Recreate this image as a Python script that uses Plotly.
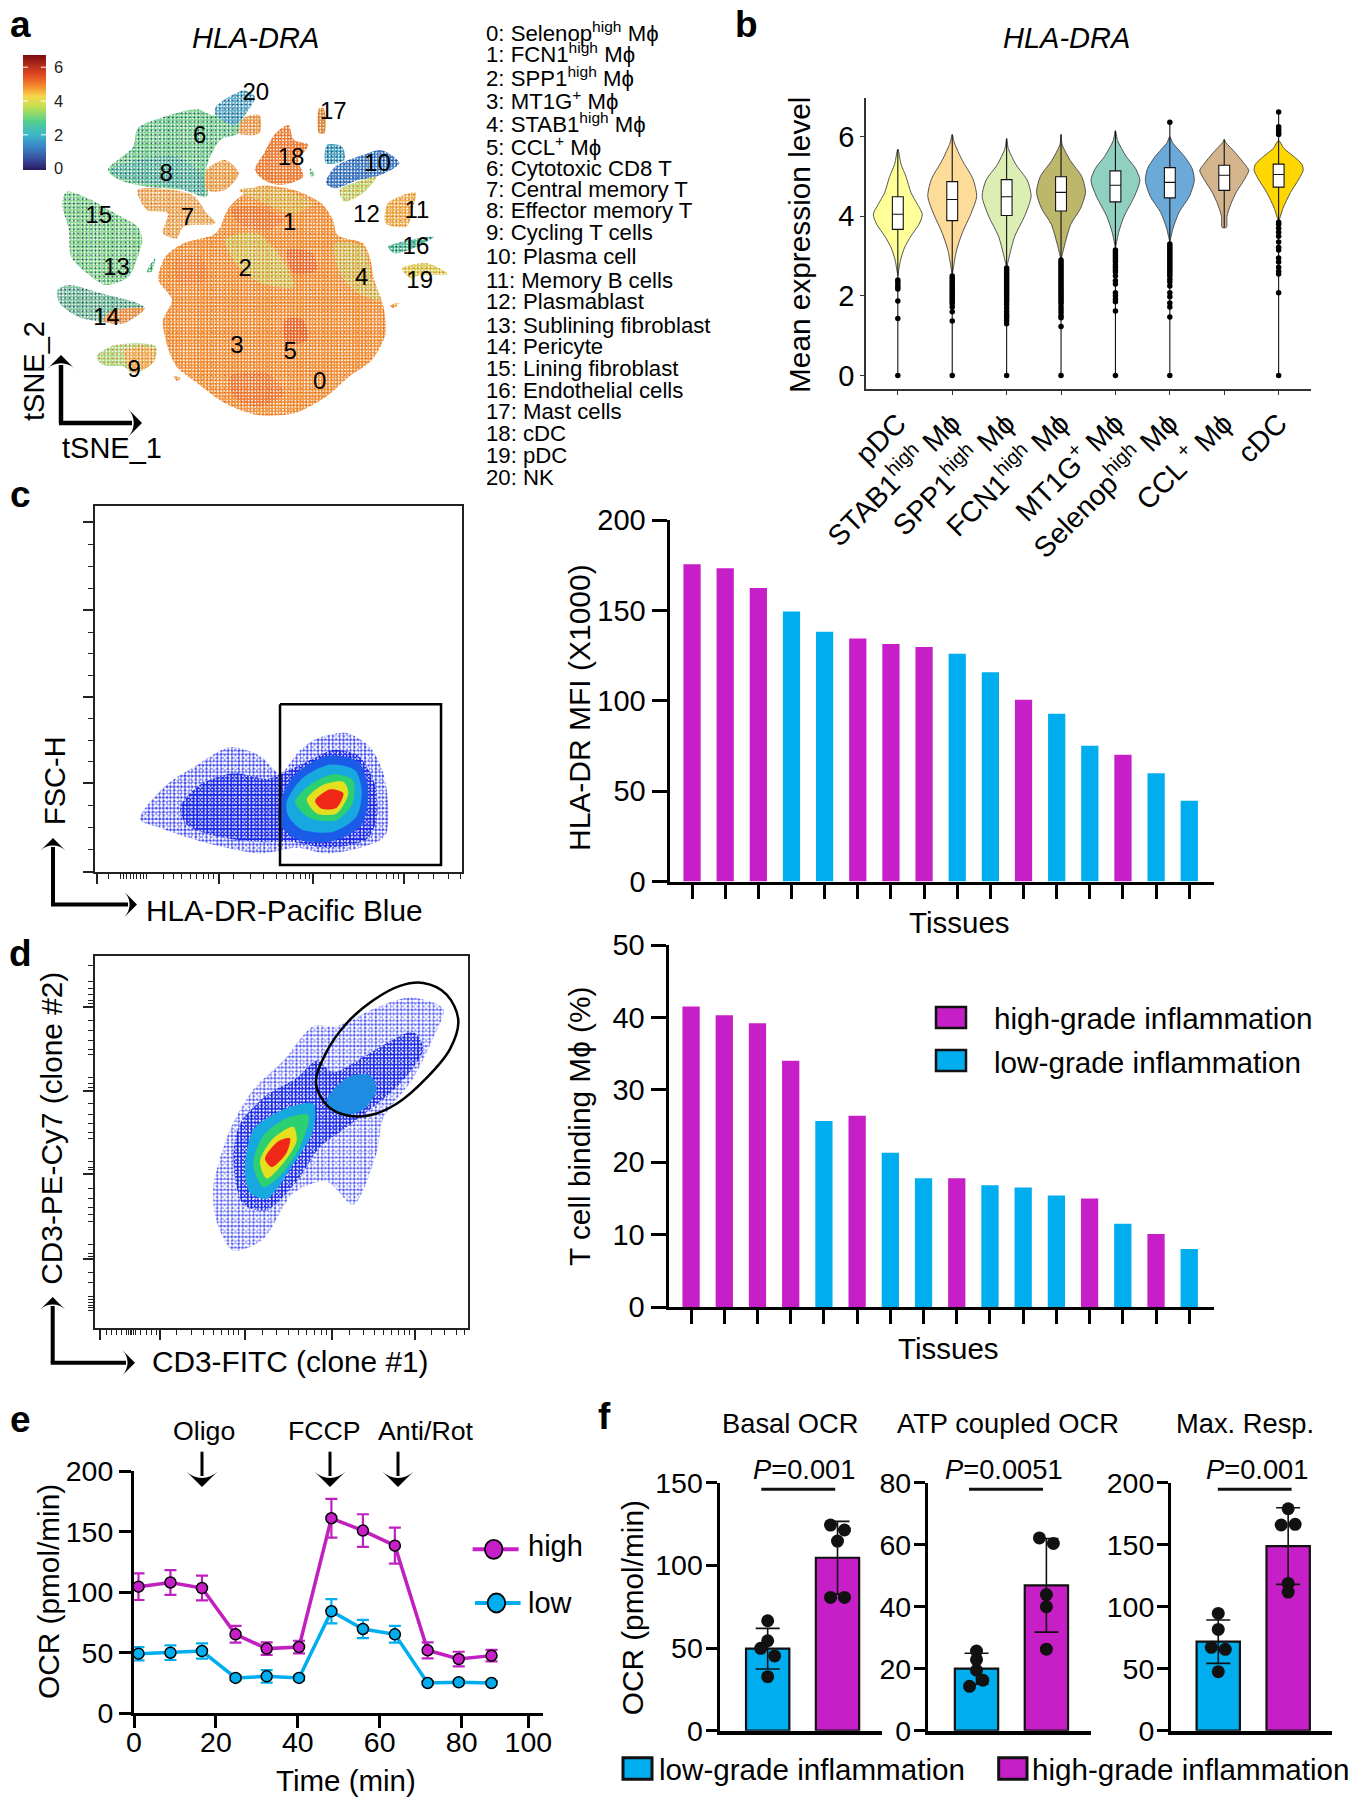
import plotly.graph_objects as go

W, H = 1362, 1800
FONT = "Liberation Sans"
PINK = "#C71FC7"
BLUE = "#00AEEF"
PHI = "\u03d5"

# ---------- panel a : tSNE islands (outline, speckle colour, base colour)
tsne_main = [(560,560),(640,570),(700,610),(725,660),(735,705),(790,730),(805,770),(815,840),(835,920),(840,1000),(810,1080),(760,1130),(710,1190),(640,1240),(560,1245),(490,1210),(430,1150),(385,1100),(365,1040),(355,960),(375,900),(345,840),(360,770),(400,730),(470,700),(500,620)]
tsne_green_a = [(490,720),(560,700),(620,790),(640,860),(570,850),(520,800)]
tsne_green_b = [(730,730),(790,740),(810,840),(830,900),(780,880),(740,820)]
tsne_green_c = [(520,570),(600,565),(680,610),(640,640),(560,600)]
tsne_red_a = [(505,630),(560,620),(620,660),(580,690),(520,670)]
tsne_red_b = [(625,750),(680,760),(690,810),(640,820)]
tsne_red_c = [(620,960),(660,960),(670,1020),(625,1030)]
tsne_red_d = [(500,1130),(580,1120),(620,1180),(560,1220),(510,1190)]
tsne_red_e = [(380,780),(440,770),(450,840),(390,850)]
tsne_18 = [(628,375),(640,420),(672,435),(650,480),(660,530),(610,555),(575,540),(555,510),(575,460),(600,400)]
tsne_t = [(235,510),(290,440),(300,385),(370,345),(430,328),(465,345),(500,300),(530,270),(555,290),(530,355),(520,400),(480,420),(450,500),(450,590),(400,570),(320,560),(260,540)]
tsne_t_dark = [(240,510),(300,480),(380,470),(440,520),(445,585),(390,565),(320,550),(265,535)]
tsne_t_blue = [(470,320),(530,272),(555,290),(530,350),(510,375),(470,345)]
tsne_nk_orange = [(530,355),(565,345),(565,400),(520,400)]
tsne_7 = [(300,570),(420,585),(450,640),(470,670),(400,680),(385,715),(355,700),(365,640),(320,630)]
tsne_7b = [(450,510),(490,480),(520,520),(490,570),(450,570)]
tsne_17 = [(695,325),(705,325),(707,400),(695,400)]
tsne_10 = [(710,550),(730,500),(790,465),(830,450),(870,490),(820,530),(780,540),(730,565)]
tsne_10b = [(712,435),(745,440),(750,480),(710,490)]
tsne_12 = [(740,570),(790,540),(820,530),(790,580),(750,605)]
tsne_11 = [(845,610),(905,578),(900,620),(885,680),(840,670)]
tsne_16 = [(845,740),(945,710),(900,745),(860,760)]
tsne_19 = [(875,805),(930,790),(975,822),(915,825),(895,835)]
tsne_15 = [(145,575),(200,600),(250,640),(300,680),(310,720),(300,770),(280,830),(230,855),(190,820),(155,770),(150,690),(135,610)]
tsne_14 = [(125,870),(150,855),(220,880),(300,910),(315,925),(270,970),(220,965),(170,950),(130,910)]
tsne_14b = [(240,935),(315,925),(270,970),(225,962)]
tsne_9 = [(210,1070),(240,1040),(300,1030),(340,1040),(335,1085),(290,1120),(270,1100),(225,1095)]
tsne_9b = [(270,1050),(335,1045),(335,1085),(290,1118)]
tsne_bit_a = [(320,815),(338,775),(330,815)]
tsne_bit_b = [(850,915),(870,910),(855,925)]
tsne_bit_c = [(378,1128),(395,1135),(385,1142)]
tsne_bit_d = [(675,505),(685,525),(678,530)]
tsne_layers = [
    (tsne_main, "#E05A1C", "#F29438"), (tsne_green_a, "#E05A1C", "#D2C455"), (tsne_green_b, "#E05A1C", "#CFC055"),
    (tsne_green_c, "#E05A1C", "#DDB84E"), (tsne_red_a, "#E05A1C", "#EC7A30"), (tsne_red_b, "#E05A1C", "#E86A2C"),
    (tsne_red_c, "#E05A1C", "#E86428"), (tsne_red_d, "#E05A1C", "#EC7A30"), (tsne_red_e, "#E05A1C", "#EE8434"),
    (tsne_18, "#E05A1C", "#EC7E32"), (tsne_t, "#1B2A6B", "#7AD68C"), (tsne_t_dark, "#1B2A6B", "#5FC0A0"),
    (tsne_t_blue, "#1B2A6B", "#5AAFC8"), (tsne_nk_orange, "#E05A1C", "#E8A050"), (tsne_7, "#E05A1C", "#E9B060"),
    (tsne_7b, "#E05A1C", "#E8A850"), (tsne_17, "#E05A1C", "#D88A3A"), (tsne_10, "#1B2A6B", "#3F7FC8"),
    (tsne_10b, "#1B2A6B", "#3FA5C0"), (tsne_12, "#E05A1C", "#B8D868"), (tsne_11, "#E05A1C", "#EDB24C"),
    (tsne_16, "#1B2A6B", "#50C090"), (tsne_19, "#E05A1C", "#D8D050"), (tsne_15, "#1B2A6B", "#86DA88"),
    (tsne_14, "#1B2A6B", "#78C49A"), (tsne_14b, "#E05A1C", "#E89040"), (tsne_9, "#E05A1C", "#A8DC80"),
    (tsne_9b, "#E05A1C", "#EDB050"), (tsne_bit_a, "#1B2A6B", "#50C878"), (tsne_bit_b, "#E05A1C", "#EE9A40"),
    (tsne_bit_c, "#E05A1C", "#EE9A40"), (tsne_bit_d, "#1B2A6B", "#60D080"),
]
cluster_ids = ["0","1","2","3","4","5","6","7","8","9","10","11","12","13","14","15","16","17","18","19","20"]
cluster_x = [696,631,534,516,788,632,435,408,362,292,822,908,798,254,232,215,906,726,634,914,557]
cluster_y = [1148,672,810,1042,836,1060,412,658,524,1112,496,636,648,808,956,650,745,340,476,845,282]
cluster_names = ["Selenop<sup>high</sup> M"+PHI,"FCN1<sup>high</sup> M"+PHI,"SPP1<sup>high</sup> M"+PHI,"MT1G<sup>+</sup> M"+PHI,"STAB1<sup>high</sup> M"+PHI,"CCL<sup>+</sup> M"+PHI,"Cytotoxic CD8 T","Central memory T","Effector memory T","Cycling T cells","Plasma cell","Memory B cells","Plasmablast","Sublining fibroblast","Pericyte","Lining fibroblast","Endothelial cells","Mast cells","cDC","pDC","NK"]
expr_levels = [-0.1,0.0,0.5,1.0,1.5,2.0,2.5,3.0,3.5,4.0,4.5,5.0,5.5,6.0,6.4,6.75]
expr_scale_pos = [0.0,0.06,0.2,0.3,0.42,0.55,0.64,0.72,0.83,1.0]
expr_scale_col = ["#2A1A5E","#35408F","#3A86C8","#3BB5C8","#55D08A","#C8E050","#F6D84C","#F59030","#E04820","#7A0A10"]

# ---------- panel b
violin_cats = ["pDC","STAB1<sup>high</sup> M"+PHI,"SPP1<sup>high</sup> M"+PHI,"FCN1<sup>high</sup> M"+PHI,"MT1G<sup>+</sup> M"+PHI,"Selenop<sup>high</sup> M"+PHI,"CCL<sup> +</sup> M"+PHI,"cDC"]
violin_colors = ["#FFFF99","#FDDC9A","#DDEEB4","#BDB76B","#8FD0C0","#6BAAD8","#D4B48C","#FFD700"]
violin_levels = [
 [5.68,5.3,5.0,4.6,4.3,4.05,3.8,3.5,3.2,2.9,2.5],
 [6.05,5.84,5.39,4.94,4.5,4.05,3.6,3.15,2.52],
 [5.95,5.7,5.3,4.9,4.5,4.0,3.5,3.0,2.7],
 [6.05,5.8,5.4,5.0,4.6,4.2,3.8,3.3,2.9],
 [6.15,5.9,5.5,5.2,4.9,4.5,4.0,3.6,3.2],
 [6.0,5.85,5.5,5.2,4.9,4.5,4.1,3.7,3.35],
 [5.93,5.85,5.6,5.3,5.15,4.9,4.6,4.3,4.0,3.72],
 [5.9,5.7,5.5,5.3,5.15,4.95,4.6,4.2,3.85],
]
violin_widths = [
 [0,.06,.15,.24,.36,.45,.39,.24,.12,.05,0],
 [0,.04,.19,.38,.45,.34,.19,.08,0],
 [0,.03,.17,.38,.45,.33,.15,.05,0],
 [0,.02,.17,.38,.45,.36,.18,.07,0],
 [0,.04,.20,.37,.45,.35,.16,.06,0],
 [0,.05,.27,.41,.45,.36,.17,.06,0],
 [0,.03,.20,.38,.45,.36,.22,.12,.05,.04],
 [0,.10,.28,.43,.45,.38,.22,.08,0],
]
box_q3 = [4.49,4.87,4.92,4.99,5.14,5.22,5.28,5.31]
box_med = [4.05,4.42,4.49,4.60,4.78,4.85,5.03,5.05]
box_q1 = [3.67,3.89,4.02,4.13,4.36,4.46,4.65,4.73]
whisker_top = [5.68,6.05,5.95,6.05,6.15,6.36,5.93,6.62]
whisker_low = [0,0,0,0,0,0,3.72,0]
outliers = [
 [0,1.43,1.87,2.17,2.22,2.28,2.35,2.40],
 [0,1.37,1.6,1.72,1.8,1.85,1.9,1.95,2.0,2.05,2.1,2.15,2.2,2.25,2.3,2.35,2.4,2.45,2.5],
 [0,1.3,1.38,1.45,1.5,1.55,1.62,1.7,1.78,1.85,1.9,1.95,2.0,2.05,2.1,2.15,2.2,2.25,2.3,2.35,2.4,2.45,2.5,2.55,2.6,2.65,2.7],
 [0,1.23,1.45,1.5,1.58,1.65,1.72,1.8,1.85,1.9,1.95,2.0,2.05,2.1,2.15,2.2,2.25,2.3,2.35,2.4,2.45,2.5,2.55,2.6,2.65,2.7,2.75,2.8,2.85,2.9],
 [0,1.62,1.85,1.92,2.0,2.08,2.3,2.38,2.5,2.6,2.65,2.72,2.78,2.85,2.9,2.95,3.0,3.05,3.1,3.15],
 [0,1.47,1.72,1.82,1.98,2.08,2.25,2.35,2.42,2.5,2.55,2.6,2.65,2.7,2.75,2.8,2.85,2.9,2.95,3.0,3.05,3.1,3.15,3.2,3.25,3.3,6.36],
 [],
 [0,2.08,2.55,2.62,2.72,2.85,2.95,3.15,3.22,3.35,3.5,3.6,3.7,3.8,3.85,6.05,6.1,6.15,6.2,6.25,6.62],
]

# ---------- panel c / d bars
tissue_ticks = list(range(16))
mfi_values = [175.5,173.3,162.4,149.4,138.2,134.5,131.4,129.8,126,115.8,100.6,92.9,75.2,70.2,59.9,44.7]
mfi_groups = list("HHHLLHHHLLHLLHLL")
tcell_values = [41.5,40.3,39.2,34,25.7,26.4,21.3,17.8,17.8,16.8,16.5,15.4,15,11.5,10.1,8]
tcell_groups = list("HHHHLHLLHLLLHLHL")
group_color = {"H": PINK, "L": BLUE}

# ---------- flow c, traced density levels
flow_c_outer = [(420,590),(500,530),(580,500),(690,465),(780,480),(840,510),(900,470),(950,450),(1040,440),(1110,465),(1150,510),(1165,570),(1155,620),(1080,640),(980,650),(890,640),(780,650),(680,640),(580,625),(480,605)]
flow_c_blue = [(540,570),(600,530),(700,510),(800,520),(850,510),(920,490),(1000,470),(1075,480),(1125,530),(1130,590),(1100,625),(980,640),(880,630),(780,630),(650,620),(560,600)]
flow_c_mid = [(835,570),(880,515),(980,480),(1075,490),(1105,540),(1085,600),(1000,628),(890,625),(840,600)]
flow_c_cyan = [(860,560),(905,520),(990,495),(1065,505),(1085,540),(1070,585),(1000,612),(905,608),(865,585)]
flow_c_green = [(885,560),(930,530),(1000,512),(1058,522),(1058,562),(1010,592),(930,588)]
flow_c_yellow = [(920,555),(970,530),(1030,525),(1045,545),(1010,580),(950,580)]
flow_c_red = [(945,558),(990,538),(1030,545),(1010,570),(965,572)]
flow_c_gate_x = [840,1323,1323,840,840]
flow_c_gate_y = [390,390,670,670,390]
flow_c_ymajor = [73,226,377,528,682]
flow_c_yminor = [112,150,188,265,302,340,415,453,490,567,605,643]
flow_c_xmajor = [290,657,940,1212]
flow_c_xminor = [325,360,370,380,390,400,410,420,430,440,490,520,545,570,590,610,625,640,700,750,790,830,860,880,900,915,928,990,1030,1070,1100,1130,1160,1180,1195,1255,1300,1345,1380]

# ---------- flow d
flow_d_outer = [(640,1230),(690,1130),(760,1060),(850,1010),(940,950),(1010,950),(1120,920),(1230,900),(1330,920),(1300,970),(1240,1040),(1150,1110),(1130,1170),(1060,1260),(980,1220),(880,1240),(790,1320),(700,1340),(650,1290)]
flow_d_blue = [(700,1180),(720,1120),(800,1070),(890,1040),(950,1010),(1000,1030),(1100,1000),(1240,960),(1270,990),(1200,1050),(1110,1095),(1030,1130),(960,1160),(890,1220),(800,1270),(730,1260)]
flow_d_cyan = [(735,1200),(760,1130),(850,1095),(940,1085),(940,1130),(880,1190),(800,1250),(750,1240)]
flow_d_green = [(760,1190),(790,1140),(860,1110),(925,1105),(900,1160),(840,1210),(790,1230)]
flow_d_yellow = [(780,1185),(820,1145),(880,1125),(890,1150),(840,1195),(800,1215)]
flow_d_red = [(795,1180),(835,1150),(870,1145),(860,1170),(815,1195)]
flow_d_upper = [(980,1080),(1040,1040),(1110,1035),(1130,1060),(1090,1095),(1020,1105)]
flow_d_gate_x = [948,975,1040,1120,1200,1270,1340,1375,1350,1280,1190,1110,1040,985,948]
flow_d_gate_y = [1050,1000,945,905,880,875,895,940,990,1040,1085,1105,1105,1090,1050]
flow_d_ymajor = [917,1062,1207,1355]
flow_d_yminor = [845,872,885,895,905,911,940,958,975,990,1000,1040,1050,1056,1085,1103,1120,1135,1146,1185,1195,1200,1232,1250,1265,1278,1290,1330,1345,1350,1378,1395,1420,1425,1430,1435,1440,1445]
flow_d_xmajor = [300,480,735,995,1245]
flow_d_xminor = [320,335,350,365,380,385,390,395,400,405,420,440,455,470,530,575,610,640,665,685,700,715,788,830,865,895,920,945,965,980,1048,1090,1125,1150,1175,1195,1215,1230,1295,1335,1370,1395]

# ---------- panel e
time_min = [1.1,8.9,16.6,24.8,32.4,40.3,48.2,55.9,63.7,71.7,79.3,87.3]
ocr_high = [104.5,108,103.4,65.2,53.4,54.7,161,150.8,138.4,52,44.8,47.6]
ocr_high_err = [11,10.2,10.2,6.9,5.2,5.2,16,13.5,14.9,6.6,6,4.7]
ocr_low = [49.2,50,51.4,29.2,30.5,29.2,84.2,69.6,65.2,25,25.6,25]
ocr_low_err = [5.5,6,6.3,2,5.2,2,10,7.5,6.9,1.5,1.5,1.5]
time_ticks = [0,20,40,60,80,96.3]
time_labels = ["0","20","40","60","80","100"]

# ---------- panel f
f_titles = ["Basal OCR","ATP coupled OCR","Max. Resp."]
f_pvalues = ["0.001","0.0051","0.001"]
f_means = [[49.6,104.6],[20,46.9],[71.8,148.9]]
f_errs = [[12.3,22],[5,15.1],[17.5,30.9]]
f_dots_low = [[66.5,54.4,49.8,45.2,32.7],[25.7,22.9,19.5,16.3,14.3],[94.6,81.7,67.2,65.6,47.6]]
f_dots_high = [[124.4,121.4,114.7,80.6,80.6],[62.2,60.4,43.9,40,26.3],[179,165.9,166.4,118.8,111.8]]
f_jit_low = [[0,0,-.1,.1,0],[0,0,0,.09,-.1],[0,0,-.1,.1,0]]
f_jit_high = [[-.1,.1,0,-.1,.1],[-.1,.1,0,0,0],[0,-.1,.1,0,0]]
f_ticks = [[0,50,100,150],[0,20,40,60,80],[0,50,100,150,200]]
f_ymax = [150,80,200]

fig = go.Figure()
_n = [1]
def axes(x0, x1, top, bottom, xo, yo):
    _n[0] += 1
    n = _n[0]
    base = dict(showgrid=False, zeroline=False, showline=False, ticks="", showticklabels=False, fixedrange=True)
    fig.update_layout({f"xaxis{n}": {**base, "domain": [x0/W, x1/W], "anchor": f"y{n}", **xo},
                       f"yaxis{n}": {**base, "domain": [1-bottom/H, 1-top/H], "anchor": f"x{n}", **yo}})
    return f"x{n}", f"y{n}"

anns, shapes, arrows = [], [], []
def note(text, x, y, size=29.5, anchor="center", angle=0, color="black"):
    anns.append(dict(text=text, x=x/W, y=1-y/H, xref="paper", yref="paper", xanchor=anchor, yanchor="middle",
                     showarrow=False, textangle=angle, font=dict(family=FONT, size=size, color=color)))
def arrow(x0, y0, x1, y1, width=3.5, size=20):
    arrows.append((x0, y0, x1, y1, width, size))
def rect(x0, y0, x1, y1, fill, lw=2.5):
    shapes.append(dict(type="rect", xref="paper", yref="paper", x0=x0/W, x1=x1/W, y0=1-y0/H, y1=1-y1/H, fillcolor=fill, line=dict(color="#111", width=lw)))
def hline(x0, x1, y, color="black", lw=3):
    shapes.append(dict(type="line", xref="paper", yref="paper", x0=x0/W, x1=x1/W, y0=1-y/H, y1=1-y/H, line=dict(color=color, width=lw)))

def poly(pts, xa, ya, bg, fg=None, size=3, solid=0.3, smooth=True):
    xs = [p[0] for p in pts] + [pts[0][0]]
    ys = [p[1] for p in pts] + [pts[0][1]]
    kw = {}
    if fg:
        kw["fillpattern"] = dict(shape=".", fgcolor=fg, bgcolor=bg, size=size, solidity=solid, fillmode="replace")
    fig.add_trace(go.Scatter(x=xs, y=ys, xaxis=xa, yaxis=ya, mode="lines", fill="toself", fillcolor=bg,
                             line=dict(width=0, color=bg, shape="spline" if smooth else "linear", smoothing=0.8), hoverinfo="skip", showlegend=False, **kw))
CLEAR = "rgba(0,0,0,0)"

# ---- panel a
xa, ya = axes(100/2.178, 1000/2.178, 230/3, 1270/3, dict(range=[100,1000]), dict(range=[1270,230]))
for pts, fg, bg in tsne_layers:
    poly(pts, xa, ya, bg, "#FFFFFF", size=3.1, solid=0.28)
    poly(pts, xa, ya, CLEAR, fg, size=4.3, solid=0.11)
fig.add_trace(go.Scatter(x=cluster_x, y=cluster_y, text=cluster_ids, xaxis=xa, yaxis=ya, mode="text", textfont=dict(family=FONT, size=24, color="black"), hoverinfo="skip", showlegend=False))

xa, ya = axes(23, 46, 55, 170, dict(range=[0,1]), dict(range=[-0.08,6.72], side="right", showticklabels=True, ticklabelstandoff=7, tickvals=[0,2,4,6], tickfont=dict(family=FONT, size=16.5, color="#222")))
fig.add_trace(go.Heatmap(x=[0,1], y=expr_levels, z=[[v,v] for v in expr_levels], xaxis=xa, yaxis=ya, zmin=0, zmax=6.75, zsmooth="best", showscale=False,
    colorscale=[[p,c] for p,c in zip(expr_scale_pos, expr_scale_col)], hoverinfo="skip"))
for v in (2,4,6):
    for a,b in ((0,.22),(.78,1)):
        shapes.append(dict(type="line", xref=xa, yref=ya, x0=a, x1=b, y0=v, y1=v, line=dict(color="white", width=1)))

note("<i>HLA-DRA</i>", 255.7, 37.5, 29)
for i, (name, y) in enumerate(zip(cluster_names, [95,160,230,300,368,438,505,568,632,698,768,840,905,975,1040,1105,1170,1235,1300,1367,1432])):
    note(f"{i}: {name}", 484, y/3, 22.2, "left")
arrow(61, 423, 61, 355, 4.5)
arrow(59, 423, 142, 423, 4.5)
note("tSNE_1", 111.6, 448, 29)
note("tSNE_2", 34, 371, 29, angle=-90)

# ---- panel b
xa, ya = axes(866, 1311, 98, 388.6,
    dict(range=[-0.585,7.595], showline=True, linecolor="#333", linewidth=1.5, ticks="outside", ticklen=5, tickwidth=1, tickcolor="#333", tickmode="array", tickvals=list(range(8)), ticktext=violin_cats, tickangle=-45, showticklabels=True, tickfont=dict(family=FONT, size=28.5, color="black")),
    dict(range=[-0.33,6.97], showline=True, linecolor="#333", linewidth=1.5, ticks="outside", ticklen=4, tickwidth=1, tickcolor="#333", tickvals=[0,2,4,6], showticklabels=True, tickfont=dict(family=FONT, size=29, color="black")))
for i in range(8):
    yy, ww, col = violin_levels[i], violin_widths[i], violin_colors[i]
    fig.add_trace(go.Scatter(x=[i-w for w in ww]+[i+w for w in reversed(ww)], y=yy+yy[::-1], xaxis=xa, yaxis=ya, mode="lines", line=dict(color="#444", width=0.9, shape="spline", smoothing=0.7), fill="toself", fillcolor=col, hoverinfo="skip", showlegend=False))
# boxes on a twin plot so that they sit above the filled violins
xa, ya = axes(866, 1311, 98, 388.6, dict(range=[-0.585,7.595]), dict(range=[-0.33,6.97]))
for i in range(8):
    fig.add_trace(go.Box(x=[i], q1=[box_q1[i]], median=[box_med[i]], q3=[box_q3[i]], lowerfence=[whisker_low[i]], upperfence=[whisker_top[i]], orientation="v", xaxis=xa, yaxis=ya, width=0.2, whiskerwidth=0, fillcolor="white", line=dict(color="#111", width=1.1), boxpoints=False, hoverinfo="skip", showlegend=False))
    fig.add_trace(go.Scatter(x=[i]*len(outliers[i]), y=outliers[i], xaxis=xa, yaxis=ya, mode="markers", marker=dict(color="black", size=5.5), hoverinfo="skip", showlegend=False))
note("<i>HLA-DRA</i>", 1066, 38, 29)
note("Mean expression level", 800, 245, 29.8, angle=-90)

# ---- panels c, d bars
def bar_axes(x0, x1, top, bottom, ymax, ticks):
    return axes(x0, x1, top, bottom,
        dict(range=[-0.68,15.74], showline=True, linecolor="black", linewidth=3, ticks="outside", ticklen=14, tickwidth=3, tickcolor="black", tickvals=tissue_ticks),
        dict(range=[0,ymax], showline=True, linecolor="black", linewidth=3, ticks="outside", ticklen=15, tickwidth=3, tickcolor="black", tickvals=ticks, showticklabels=True, tickfont=dict(family=FONT, size=29, color="black")))
xa, ya = bar_axes(669.5, 1213.8, 520, 881.6, 200, [0,50,100,150,200])
fig.add_trace(go.Bar(x=tissue_ticks, y=mfi_values, xaxis=xa, yaxis=ya, width=0.52, marker=dict(color=[group_color[g] for g in mfi_groups], line=dict(width=0)), hoverinfo="skip", showlegend=False))
xa, ya = bar_axes(668.5, 1213.8, 945, 1307, 50, [0,10,20,30,40,50])
fig.add_trace(go.Bar(x=tissue_ticks, y=tcell_values, xaxis=xa, yaxis=ya, width=0.52, marker=dict(color=[group_color[g] for g in tcell_groups], line=dict(width=0)), hoverinfo="skip", showlegend=False))
note("HLA-DR MFI (X1000)", 579, 708, 30, angle=-90)
note("T cell binding M"+PHI+" (%)", 579, 1127, 29.8, angle=-90)
note("Tissues", 959.5, 922, 29.5)
note("Tissues", 948, 1348.5, 29.5)
rect(936, 1007, 966, 1028, PINK)
rect(936, 1050, 966, 1071, BLUE)
note("high-grade inflammation", 992, 1018, 29.7, "left")
note("low-grade inflammation", 992, 1062, 29.7, "left")

# ---- flow panels
def flow_axes(x0, x1, top, bottom, xr, yr, xmaj, xmin, ymaj, ymin):
    frame = dict(showline=True, mirror=True, linecolor="#222", linewidth=1.5, ticks="outside", tickcolor="#222", tickwidth=1.5, ticklen=10)
    return axes(x0, x1, top, bottom,
        dict(range=xr, tickvals=xmaj, minor=dict(tickmode="array", tickvals=xmin, ticks="outside", ticklen=5, tickwidth=1.2, tickcolor="#222"), **frame),
        dict(range=yr, tickvals=ymaj, minor=dict(tickmode="array", tickvals=ymin, ticks="outside", ticklen=5, tickwidth=1.2, tickcolor="#222"), **frame))
xa, ya = flow_axes(95, 461.7, 505.9, 872, [285,1385], [682,45], flow_c_xmajor, flow_c_xminor, flow_c_ymajor, flow_c_yminor)
poly(flow_c_outer, xa, ya, "#2A35F0", "#FFFFFF", 3.6, 0.55)
poly(flow_c_outer, xa, ya, CLEAR, "#FFFFFF", 5.3, 0.2)
poly(flow_c_blue, xa, ya, "#1A28E8", "#FFFFFF", 3.4, 0.22)
poly(flow_c_blue, xa, ya, CLEAR, "#FFFFFF", 4.9, 0.1)
poly(flow_c_mid, xa, ya, "#1A5CE8")
poly(flow_c_cyan, xa, ya, "#18A8E0")
poly(flow_c_green, xa, ya, "#2CD070")
poly(flow_c_yellow, xa, ya, "#E4E020")
poly(flow_c_red, xa, ya, "#F02818")
fig.add_trace(go.Scatter(x=flow_c_gate_x, y=flow_c_gate_y, xaxis=xa, yaxis=ya, mode="lines", line=dict(color="black", width=2.5), hoverinfo="skip", showlegend=False))
arrow(53, 904.4, 53, 838, 4, 18)
arrow(51, 904.4, 137, 904.4, 4, 18)
note("HLA-DR-Pacific Blue", 284, 910, 29.8)
note("FSC-H", 55, 781, 29, angle=-90)

xa, ya = flow_axes(95, 468.3, 956, 1328, [285,1405], [1475,828], flow_d_xmajor, flow_d_xminor, flow_d_ymajor, flow_d_yminor)
poly(flow_d_outer, xa, ya, "#3A44F2", "#FFFFFF", 3.6, 0.62)
poly(flow_d_outer, xa, ya, CLEAR, "#FFFFFF", 5.3, 0.25)
poly(flow_d_blue, xa, ya, "#1A28E8", "#FFFFFF", 3.4, 0.25)
poly(flow_d_blue, xa, ya, CLEAR, "#FFFFFF", 4.9, 0.1)
poly(flow_d_cyan, xa, ya, "#18A8E0")
poly(flow_d_green, xa, ya, "#2CD070")
poly(flow_d_yellow, xa, ya, "#E4E020")
poly(flow_d_red, xa, ya, "#F02818")
poly(flow_d_upper, xa, ya, "#1E8CE0")
fig.add_trace(go.Scatter(x=flow_d_gate_x, y=flow_d_gate_y, xaxis=xa, yaxis=ya, mode="lines", line=dict(color="black", width=2.5, shape="spline"), hoverinfo="skip", showlegend=False))
arrow(52.7, 1362.7, 52.7, 1297, 4, 18)
arrow(50.7, 1362.7, 135, 1362.7, 4, 18)
note("CD3-FITC (clone #1)", 290, 1361, 29.8)
note("CD3-PE-Cy7 (clone #2)", 50.7, 1128, 29.8, angle=-90)

# ---- panel e
xa, ya = axes(134, 542.7, 1471, 1713.3,
    dict(range=[0,99.8], showline=True, linecolor="black", linewidth=3, ticks="outside", ticklen=12, tickwidth=3, tickcolor="black", tickvals=time_ticks, ticktext=time_labels, showticklabels=True, ticklabelstandoff=-11, tickfont=dict(family=FONT, size=28.5, color="black")),
    dict(range=[0,200], showline=True, linecolor="black", linewidth=3, ticks="outside", ticklen=12, tickwidth=3, tickcolor="black", tickvals=[0,50,100,150,200], showticklabels=True, tickfont=dict(family=FONT, size=28.5, color="black")))
for vals, errs, col, mcol in ((ocr_low, ocr_low_err, BLUE, BLUE), (ocr_high, ocr_high_err, "#C020C0", PINK)):
    fig.add_trace(go.Scatter(x=time_min, y=vals, xaxis=xa, yaxis=ya, mode="lines+markers", cliponaxis=False,
        line=dict(color=col, width=3.5), marker=dict(color=mcol, size=11, line=dict(color="black", width=1.5)),
        error_y=dict(type="data", array=errs, color=col, thickness=2.2, width=6), hoverinfo="skip", showlegend=False))
note("OCR (pmol/min)", 48, 1592, 29.8, angle=-90)
note("Time (min)", 345.6, 1780, 29.5)
for t, x in (("Oligo", 204), ("FCCP", 324), ("Anti/Rot", 425.6)):
    note(t, x, 1430.7, 26.7)
for x in (202, 330, 398):
    arrow(x, 1451.7, x, 1487, 3, 22)
for y, col, x0, x1, xc, label, lx, ly in ((1549.3, PINK, 472.6, 518.6, 493.7, "high", 526, 1546), (1603, BLUE, 475, 520.6, 496.4, "low", 526, 1603)):
    hline(x0, x1, y, col, 4)
    shapes.append(dict(type="circle", xref="paper", yref="paper", x0=(xc-8.8)/W, x1=(xc+8.8)/W, y0=1-(y+9.5)/H, y1=1-(y-9.5)/H, fillcolor=col, line=dict(color="black", width=1.8)))
    note(label, lx, ly, 29, "left")

# ---- panel f
f_geom = [(719.5,881.5,-0.69,1.63),(927.8,1090.7,-0.697,1.634),(1171,1332,-0.676,1.627)]
for k in range(3):
    x0, x1, r0, r1 = f_geom[k]
    xa, ya = axes(x0, x1, 1482.7, 1730.7,
        dict(range=[r0,r1], showline=True, linecolor="black", linewidth=3.5),
        dict(range=[0,f_ymax[k]], showline=True, linecolor="black", linewidth=3, ticks="outside", ticklen=11, tickwidth=3, tickcolor="black", tickvals=f_ticks[k], showticklabels=True, ticklabelstandoff=-3, tickfont=dict(family=FONT, size=28.5, color="black")))
    fig.add_trace(go.Bar(x=[0,1], y=f_means[k], xaxis=xa, yaxis=ya, width=0.62, marker=dict(color=[BLUE,PINK], line=dict(color="#111", width=2.2)), error_y=dict(type="data", array=f_errs[k], color="#111", thickness=1.6, width=12), hoverinfo="skip", showlegend=False))
    fig.add_trace(go.Scatter(x=[j for j in f_jit_low[k]]+[1+j for j in f_jit_high[k]], y=f_dots_low[k]+f_dots_high[k], xaxis=xa, yaxis=ya, mode="markers", cliponaxis=False, marker=dict(color="#111", size=13), hoverinfo="skip", showlegend=False))
for t, x in zip(f_titles, (790.9, 1007.5, 1244.8)):
    note(t, x, 1423, 27.3)
for p, x in zip(f_pvalues, (803.7, 1004, 1257)):
    note(f"<i>P</i>={p}", x, 1469.3, 27.3)
for a, b in ((761.3,835.2),(969,1043),(1217.8,1291.6)):
    hline(a, b, 1489.3, "#111", 3)
note("OCR (pmol/min)", 632, 1608.3, 29.8, angle=-90)
rect(623, 1757.7, 652, 1779.3, BLUE, 3)
rect(998.7, 1757.7, 1027, 1779.3, PINK, 3)
note("low-grade inflammation", 657, 1769, 29.6, "left")
note("high-grade inflammation", 1030, 1769, 29.6, "left")

# panel letters
for t, x, y in (("a",20.6,25),("b",746.6,25),("c",20.7,494),("d",20.7,953),("e",20,1419),("f",604.8,1416.7)):
    note(f"<b>{t}</b>", x, y, 37)

# arrows on a whole-page overlay
xa, ya = axes(0, W, 0, H, dict(range=[0,W]), dict(range=[H,0]))
for x0, y0, x1, y1, wd, sz in arrows:
    dx = 0 if x0 == x1 else (1 if x1 > x0 else -1)
    dy = 0 if y0 == y1 else (1 if y1 > y0 else -1)
    ang = 90 if dx > 0 else (180 if dy > 0 else 0)
    fig.add_trace(go.Scatter(x=[x0, x1-dx*sz*0.5], y=[y0, y1-dy*sz*0.5], xaxis=xa, yaxis=ya, mode="lines", line=dict(color="black", width=wd), hoverinfo="skip", showlegend=False))
    fig.add_trace(go.Scatter(x=[x1], y=[y1], xaxis=xa, yaxis=ya, mode="markers", marker=dict(symbol="arrow-wide", size=sz, angle=ang, color="black", line=dict(width=0)), hoverinfo="skip", showlegend=False))

fig.update_layout(width=W, height=H, margin=dict(l=0,r=0,t=0,b=0,pad=0,autoexpand=False), paper_bgcolor="white", plot_bgcolor="rgba(0,0,0,0)",
    font=dict(family=FONT, color="black"), annotations=anns, shapes=shapes, boxmode="overlay", barmode="overlay", showlegend=False)
fig.write_html("out.html", config=dict(displayModeBar=False), post_script="document.body.style.margin='0';document.body.style.overflow='hidden';")
